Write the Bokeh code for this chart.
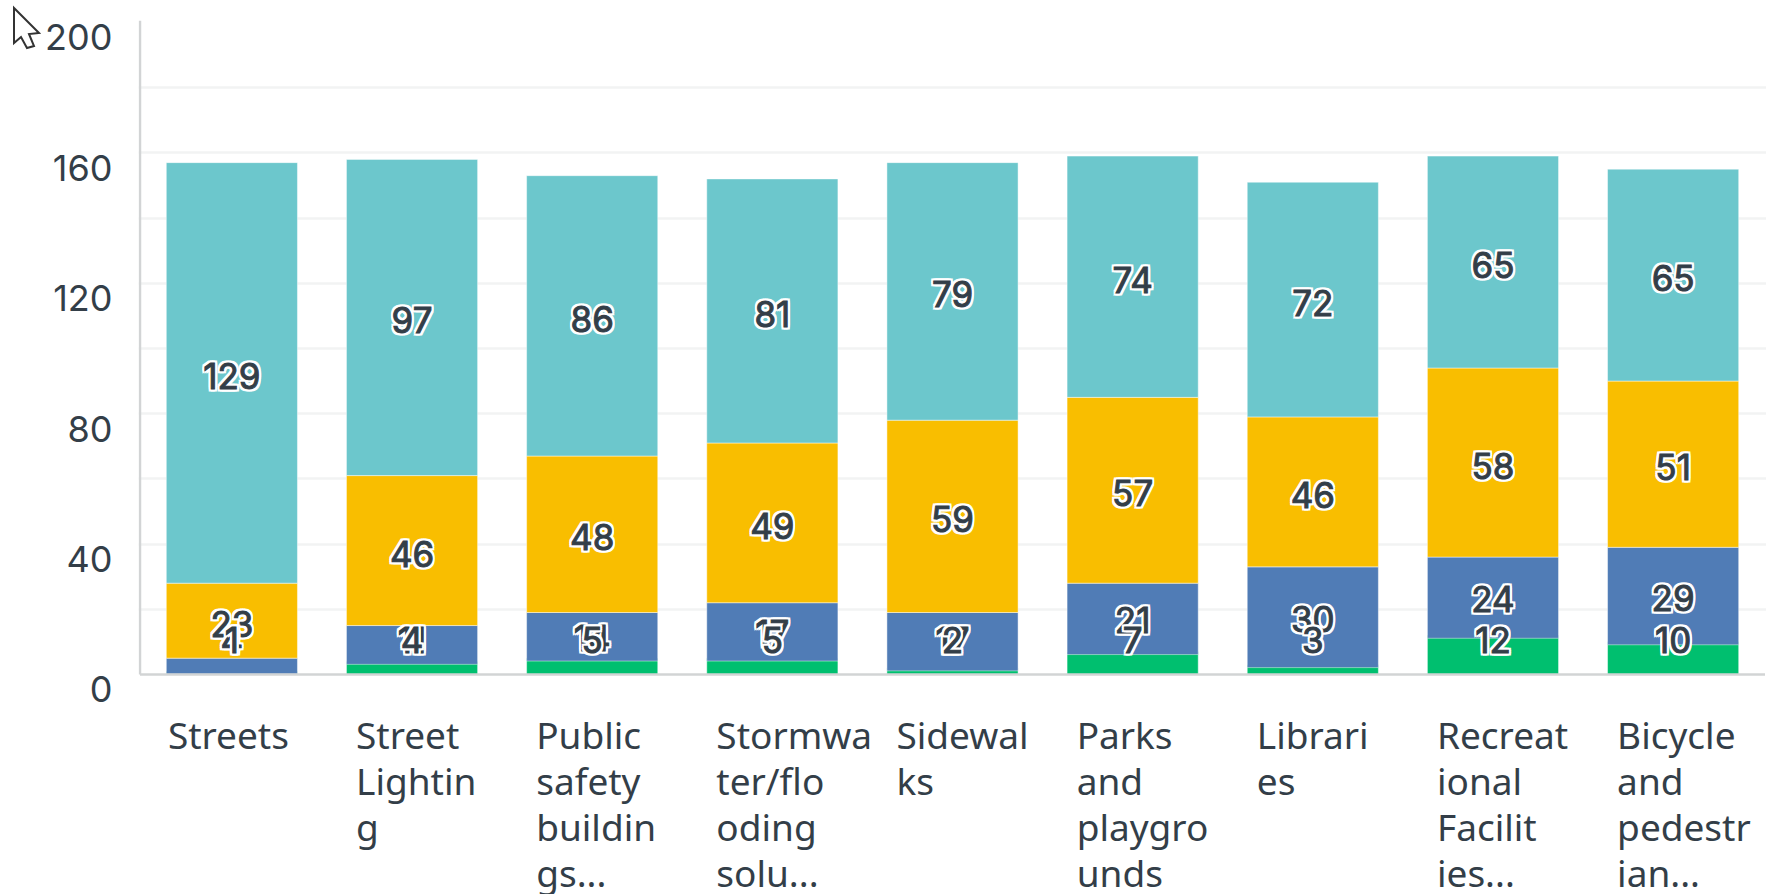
import numpy as np
from bokeh.plotting import figure
from bokeh.embed import file_html
from bokeh.resources import INLINE
from bokeh.layouts import column
from bokeh.models import ColumnDataSource, FactorRange, Range1d, FixedTicker, LinearAxis, Div
from bokeh.core.properties import value

categories = ["Streets", "Street\nLightin\ng", "Public\nsafety\nbuildin\ngs...",
              "Stormwa\nter/flo\noding\nsolu...", "Sidewal\nks", "Parks\nand\nplaygro\nunds",
              "Librari\nes", "Recreat\nional\nFacilit\nies...", "Bicycle\nand\npedestr\nian..."]
green = [1, 4, 5, 5, 2, 7, 3, 12, 10]
blue = [4, 11, 14, 17, 17, 21, 30, 24, 29]
yellow = [23, 46, 48, 49, 59, 57, 46, 58, 51]
teal = [129, 97, 86, 81, 79, 74, 72, 65, 65]
y_label_ticks = [0, 40, 80, 120, 160, 200]
grid_ticks = [20, 40, 60, 80, 100, 120, 140, 160, 180]
cursor_x = [14, 14, 21, 27, 34, 29, 39]
cursor_y = [8, 43, 37, 48, 46, 34, 33]
colors = {"teal": "#6CC7CC", "yellow": "#F9BE00", "blue": "#507CB6", "green": "#00BF6F"}
TEXT = "#333E48"
FONT = "Noto Sans"
NUM_FONT = "Inter"

Y0, Y1 = -67.5, 200.6
LABEL_SHIFT = 4.6   # tick labels sit this many units below their gridlines

p = figure(width=1766, height=894, output_backend="svg", toolbar_location=None,
           x_range=FactorRange(factors=categories, range_padding=0.00407),
           y_range=Range1d(Y0, Y1),
           y_axis_location=None,
           min_border_left=138, min_border_right=0, min_border_top=20, min_border_bottom=0,
           outline_line_color=None, background_fill_color=None, border_fill_color=None)

p.xaxis.visible = False
p.xgrid.visible = False
p.ygrid.ticker = FixedTicker(ticks=grid_ticks)
p.ygrid.grid_line_color = "#F2F3F3"
p.ygrid.grid_line_width = 2.5

p.extra_y_ranges["labels"] = Range1d(Y0 + LABEL_SHIFT, Y1 + LABEL_SHIFT)
ax = LinearAxis(y_range_name="labels", ticker=FixedTicker(ticks=y_label_ticks))
ax.axis_line_color = None
ax.major_tick_line_color = None
ax.minor_tick_line_color = None
ax.major_label_standoff = 20
ax.major_label_text_font = NUM_FONT
ax.major_label_text_font_size = "36px"
ax.major_label_text_color = TEXT
p.add_layout(ax, "left")

g = np.array(green, float)
b = np.array(blue, float)
y = np.array(yellow, float)
t = np.array(teal, float)
OVERLAP = 0.9   # blue bar covers the lowest strip of the green one
CLAMP = 11.5

p.segment(x0=[-0.01], x1=[-0.01], y0=[0], y1=[200.6], line_color="#D2D4D5", line_width=2.5)

segments = [
    ("green", np.zeros(9), g),
    ("blue", g - OVERLAP, g + b),
    ("yellow", g + b, g + b + y),
    ("teal", g + b + y, g + b + y + t),
]
for name, bot, top in segments:
    p.vbar(x=categories, bottom=bot, top=top, width=0.728, fill_color=colors[name],
           line_color="white", line_alpha=0.45, line_width=1)

p.segment(x0=[-0.01], x1=[9.01], y0=[0], y1=[0], line_color="#D2D4D5", line_width=2.5)

label_sets = [
    (teal, g + b + y + t / 2),
    (yellow, g + b + y / 2),
    (blue, g + b / 2),
    (green, g / 2),
]
halo = [(-2, -2), (0, -2), (2, -2), (-2, 0), (2, 0), (-2, 2), (0, 2), (2, 2)]
for vals, centers in label_sets:
    src = ColumnDataSource(dict(x=categories, y=np.maximum(centers, CLAMP), t=[str(v) for v in vals]))
    for dx, dy in halo:
        p.text(x="x", y="y", text="t", source=src, text_align="center", text_baseline="middle",
               x_offset=dx, y_offset=3 + dy, text_font=value(NUM_FONT), text_font_size="35px",
               text_color="white", outline_color="white")
    p.text(x="x", y="y", text="t", source=src, text_align="center", text_baseline="middle",
           y_offset=3, text_font=value(NUM_FONT), text_font_size="35px", text_color=TEXT,
           outline_color=TEXT)

xoff = [-64] + [-56] * 8
p.text(x=categories, y=[0] * 9, text=categories, x_offset=xoff, y_offset=35,
       text_align="left", text_baseline="top", text_font=value(FONT), text_font_size="37px",
       text_color=TEXT, text_line_height=0.9)

# mouse pointer of the reference, as a fixed overlay at the page corner
pts = " ".join(f"{a},{b_}" for a, b_ in zip(cursor_x, cursor_y))
cursor_html = ('<svg width="50" height="60" style="position:fixed;left:0;top:0;z-index:1000">'
               f'<polygon points="{pts}" fill="white" stroke="#333333" stroke-width="2"/></svg>')
cursor = Div(text=cursor_html, width=1, height=1, margin=(0, 0, -1, 0))

page = column(cursor, p, spacing=0)
open("out.html", "w").write(file_html(page, INLINE))
